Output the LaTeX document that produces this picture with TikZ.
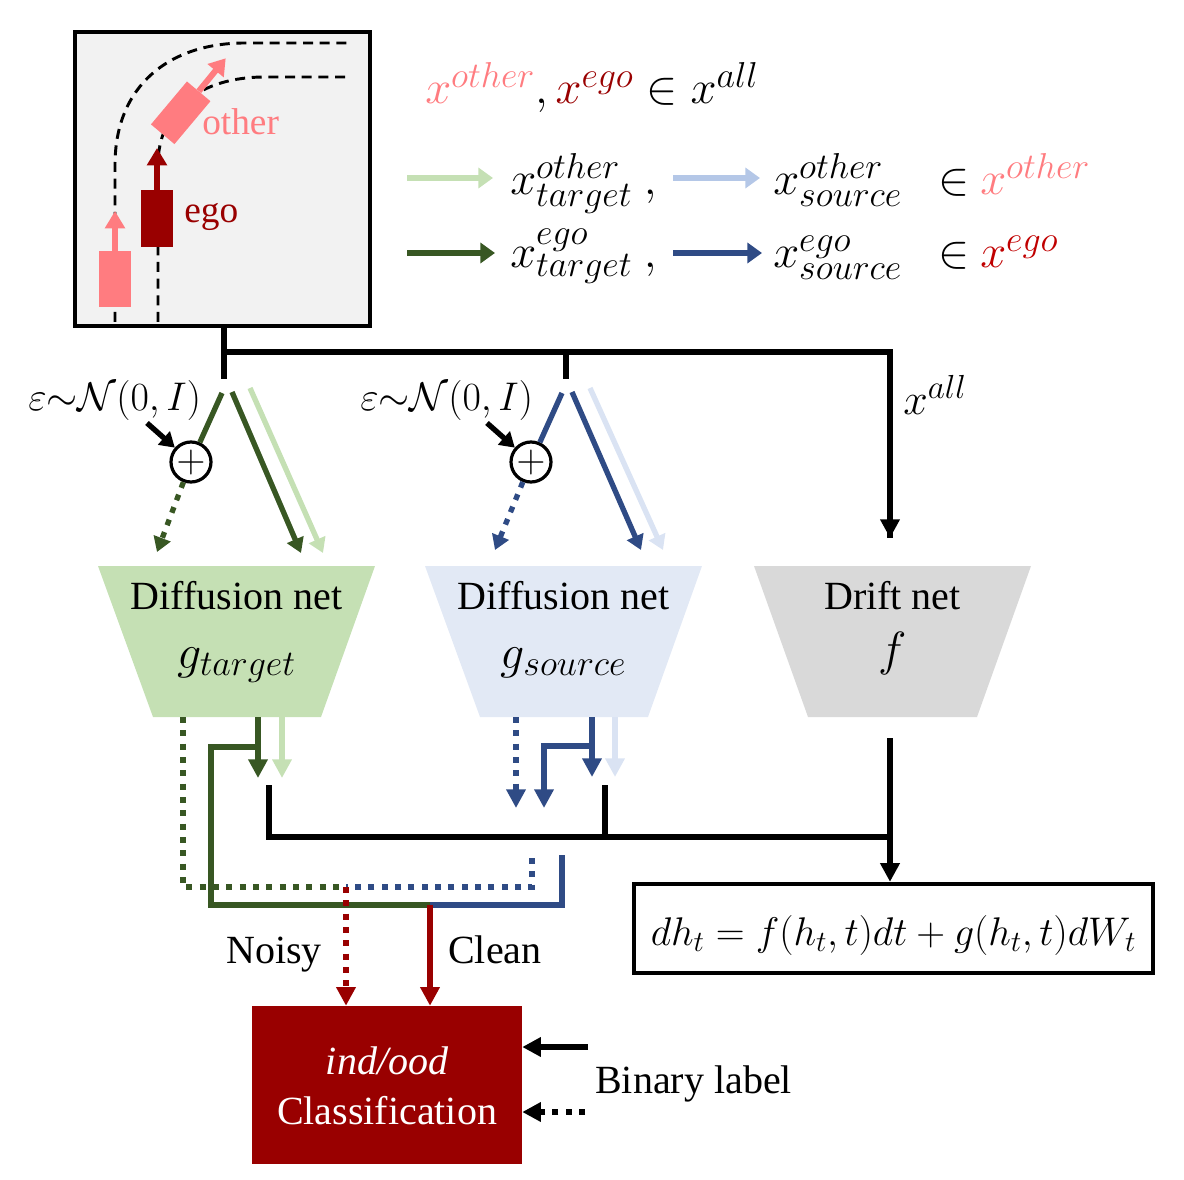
\RequirePackage{fix-cm}
\documentclass[tikz,border=0pt]{standalone}
\usepackage{fontspec}
\setmainfont{Liberation Serif}
\usetikzlibrary{arrows.meta}
\DeclareMathSizes{35}{35}{27}{20}
\DeclareMathSizes{36}{36}{27}{20}
\DeclareMathSizes{33}{33}{25}{18}
\DeclareMathSizes{30}{30}{22}{16}
\definecolor{pinkc}{HTML}{FF7C80}
\definecolor{egoc}{HTML}{990000}
\definecolor{egob}{HTML}{C00000}
\definecolor{dgreen}{HTML}{385723}
\definecolor{lgreen}{HTML}{C5E0B4}
\definecolor{dblue}{HTML}{2F4B85}
\definecolor{lblue}{HTML}{B4C7E7}
\definecolor{llblue}{HTML}{DAE3F3}
\definecolor{bluefill}{HTML}{E2E9F5}
\definecolor{grayfill}{HTML}{D9D9D9}
\definecolor{scenefill}{HTML}{F2F2F2}
\begin{document}
\begin{tikzpicture}[x=0.75pt,y=-0.75pt,
  bus/.style={line width=4pt, black},
  cn/.style={line width=4pt},
  dotl/.style={line width=4pt, dash pattern=on 4.5pt off 5.5pt},
  tipM/.style={-{Triangle[width=14pt,length=14pt]}},
  tipS/.style={-{Triangle[width=13pt,length=11pt]}},
  legarrow/.style={line width=4.5pt, -{Triangle[width=15pt,length=11pt]}},
  road/.style={line width=2.2pt, black, dash pattern=on 7.5pt off 5pt},
  lbl/.style={font=\fontsize{30}{36}\selectfont, inner sep=0, anchor=base west},
  lblc/.style={font=\fontsize{30}{36}\selectfont, inner sep=0, anchor=base},
  lbl28/.style={font=\fontsize{28}{34}\selectfont, inner sep=0, anchor=base west},
  mth/.style={font=\fontsize{35}{42}\selectfont, inner sep=0, anchor=base west},
  gmth/.style={font=\fontsize{36}{42}\selectfont, inner sep=0, anchor=base},
  plusc/.style={circle, draw, line width=2.4pt, minimum size=30pt, inner sep=0, fill=white, font=\fontsize{30}{34}\selectfont},
]
\useasboundingbox (0,0) rectangle (1184,1180);

% ---------------- scene ----------------
\node[draw, line width=3pt, fill=scenefill, minimum width=221pt, minimum height=220.5pt, inner sep=0] (scene) at (222.5,179) {};
\draw[road] (115,322) -- (115,165) .. controls (115,85) and (170,43) .. (245,43) -- (347,43);
\draw[road] (158,322) -- (158,165) .. controls (158,110) and (200,77) .. (265,77) -- (347,77);
\node[fill=pinkc, minimum width=42pt, minimum height=23pt, inner sep=0, rotate=50] (othercar) at (180.7,112.8) {};
\coordinate (othertip) at (225.7,58.3);
\draw[pinkc, line width=4.5pt, -{Triangle[width=15pt,length=12pt]}] (othercar.east) -- (othertip);
\node[fill=egoc, minimum width=24pt, minimum height=42.75pt, inner sep=0] (egocar) at (157,218.5) {};
\coordinate (egotip) at (157,148);
\draw[egoc, line width=5pt, -{Triangle[width=14.5pt,length=13pt]}] (egocar.north) -- (egotip);
\node[fill=pinkc, minimum width=24pt, minimum height=42pt, inner sep=0] (car2) at (115,279) {};
\coordinate (car2tip) at (115,211);
\draw[pinkc, line width=5pt, -{Triangle[width=14.5pt,length=13pt]}] (car2.north) -- (car2tip);
\node[lbl28, text=pinkc] (otherlbl) at (202,135) {other};
\node[lbl28, text=egoc] (egolbl) at (184,223) {ego};

% ---------------- legend ----------------
\node[mth] (legtop) at (425,104) {$\textcolor{pinkc}{x^{other}},\textcolor{egoc}{x^{ego}}\in x^{all}$};
\coordinate (a1s) at (407,178); \coordinate (a1e) at (493,178);
\coordinate (a2s) at (673,178); \coordinate (a2e) at (760,178);
\coordinate (a3s) at (407,253); \coordinate (a3e) at (495,253);
\coordinate (a4s) at (673,253); \coordinate (a4e) at (762,253);
\draw[lgreen, legarrow] (a1s) -- (a1e);
\draw[lblue, legarrow] (a2s) -- (a2e);
\draw[dgreen, legarrow] (a3s) -- (a3e);
\draw[dblue, legarrow] (a4s) -- (a4e);
\node[mth] (l1a) at (510,195) {$x^{other}_{target}\ ,$};
\node[mth] (l1b) at (773,195) {$x^{other}_{source}$};
\node[mth] (l1c) at (938,195) {$\in$};
\node[mth, text=pinkc] (l1d) at (980,195) {$x^{other}$};
\node[mth] (l2a) at (510,268) {$x^{ego}_{target}\ ,$};
\node[mth] (l2b) at (773,268) {$x^{ego}_{source}$};
\node[mth] (l2c) at (938,268) {$\in$};
\node[mth, text=egob] (l2d) at (980,268) {$x^{ego}$};

% ---------------- input bus ----------------
\coordinate (jA) at (224,352);
\coordinate (stubA) at (224,379);
\coordinate (jB) at (566,352);
\coordinate (stubB) at (566,379);
\coordinate (jC) at (890,352);
\coordinate (cin) at (890,538);
\draw[bus] (scene.south -| jA) -- (stubA);
\draw[bus] (jA) -- (jC) -- (cin);
\draw[bus, tipM] (jC) -- (cin);
\draw[bus] (jB) -- (stubB);
\node[font=\fontsize{33}{40}\selectfont, inner sep=0, anchor=base west] (xall) at (903,414) {$x^{all}$};

% ---------------- green branch ----------------
\node[lbl] (epsA) at (28,410) {$\varepsilon{\sim}\mathcal{N}(0,I)$};
\node[plusc] (plusA) at (191,462) {$+$};
\coordinate (nA) at (222,393);
\coordinate (eA) at (147,423);
\coordinate (tA1) at (157,552);
\coordinate (sA) at (232,392); \coordinate (tA2) at (301,553);
\coordinate (sA2) at (250,388); \coordinate (tA3) at (323,553);
\draw[dgreen, cn] (nA) -- (plusA);
\draw[dgreen, dotl, tipS] (plusA) -- (tA1);
\draw[black, line width=4pt, tipS] (eA) -- (plusA);
\draw[dgreen, cn, tipS] (sA) -- (tA2);
\draw[lgreen, cn, tipS] (sA2) -- (tA3);

% ---------------- blue branch ----------------
\node[lbl] (epsB) at (360,410) {$\varepsilon{\sim}\mathcal{N}(0,I)$};
\node[plusc] (plusB) at (531,462) {$+$};
\coordinate (nB) at (562,393);
\coordinate (eB) at (487,423);
\coordinate (tB1) at (495,550);
\coordinate (sB) at (572,392); \coordinate (tB2) at (641,550);
\coordinate (sB2) at (590,388); \coordinate (tB3) at (663,550);
\draw[dblue, cn] (nB) -- (plusB);
\draw[dblue, dotl, tipS] (plusB) -- (tB1);
\draw[black, line width=4pt, tipS] (eB) -- (plusB);
\draw[dblue, cn, tipS] (sB) -- (tB2);
\draw[llblue, cn, tipS] (sB2) -- (tB3);

% ---------------- nets ----------------
\fill[lgreen] (98,566) -- (375,566) -- (321,717) -- (153,717) -- cycle;
\fill[bluefill] (425,566) -- (702,566) -- (648,717) -- (480,717) -- cycle;
\fill[grayfill] (754,566) -- (1031,566) -- (977,717) -- (808,717) -- cycle;
\node[lblc] (gtname) at (236.5,609) {Diffusion net};
\node[gmth] (gt) at (236.5,668) {$g_{target}$};
\node[lblc] (gsname) at (563.5,609) {Diffusion net};
\node[gmth] (gs) at (563.5,668) {$g_{source}$};
\node[lblc] (fname) at (892.5,609) {Drift net};
\node[gmth] (fn) at (892.5,665) {$f$};

% ---------------- outputs of g_target ----------------
\coordinate (gA1) at (183,717);
\coordinate (gA2) at (258,717);
\coordinate (gA3) at (282,717);
\coordinate (nz) at (346,887);
\coordinate (cl) at (430,905);
\draw[dgreen, dotl] (gA1) -- (183,887) -- (nz);
\draw[dgreen, cn, tipM] (gA2) -- (258,778);
\draw[lgreen, cn, tipM] (gA3) -- (282,778);
\draw[dgreen, cn] (258,747) -- (211,747) -- (211,905) -- (cl);

% ---------------- outputs of g_source ----------------
\coordinate (gB1) at (516,717);
\coordinate (gB2) at (592,717);
\coordinate (gB3) at (615,717);
\draw[dblue, dotl, tipM] (gB1) -- (516,808);
\draw[dblue, cn, tipM] (gB2) -- (592,777);
\draw[llblue, cn, tipM] (gB3) -- (615,777);
\draw[dblue, cn, tipM] (592,746) -- (544,746) -- (544,808);
\draw[dblue, dotl] (532,858) -- (532,887) -- (nz);
\draw[dblue, cn] (562,855) -- (562,905) -- (cl);

% ---------------- lower bus to SDE ----------------
\node[draw, line width=3pt, minimum width=389pt, minimum height=67pt, inner sep=0] (eq) at (893.5,928.5) {};
\node[lblc] (eqtxt) at (893.5,945) {$dh_t = f(h_t,t)dt + g(h_t,t)dW_t$};
\coordinate (fout) at (890,738);
\draw[bus] (269,785) -- (269,837) -- (890,837);
\draw[bus] (605,785) -- (605,837);
\draw[bus, tipM] (fout) -- (fout |- eq.north);

% ---------------- classification ----------------
\node[fill=egoc, minimum width=202.5pt, minimum height=118.5pt, inner sep=0] (cls) at (387,1085) {};
\node[font=\fontsize{30}{37.5}\selectfont, text=white, align=center, inner sep=0, anchor=base] (clstxt) at (387,1124) {\itshape ind/ood\\Classification};
\draw[egoc, dotl, tipM] (nz) -- (nz |- cls.north);
\draw[egoc, cn, tipM] (cl) -- (cl |- cls.north);
\node[lbl] (noisy) at (226,963) {Noisy};
\node[lbl] (clean) at (448,963) {Clean};

\coordinate (bl1) at (588,1047);
\coordinate (bl2) at (585,1112);
\draw[black, cn, tipM] (bl1) -- (cls.east |- bl1);
\draw[black, dotl, tipM] (bl2) -- (cls.east |- bl2);
\node[lbl] (binlbl) at (595,1093) {Binary label};
\end{tikzpicture}
\end{document}
